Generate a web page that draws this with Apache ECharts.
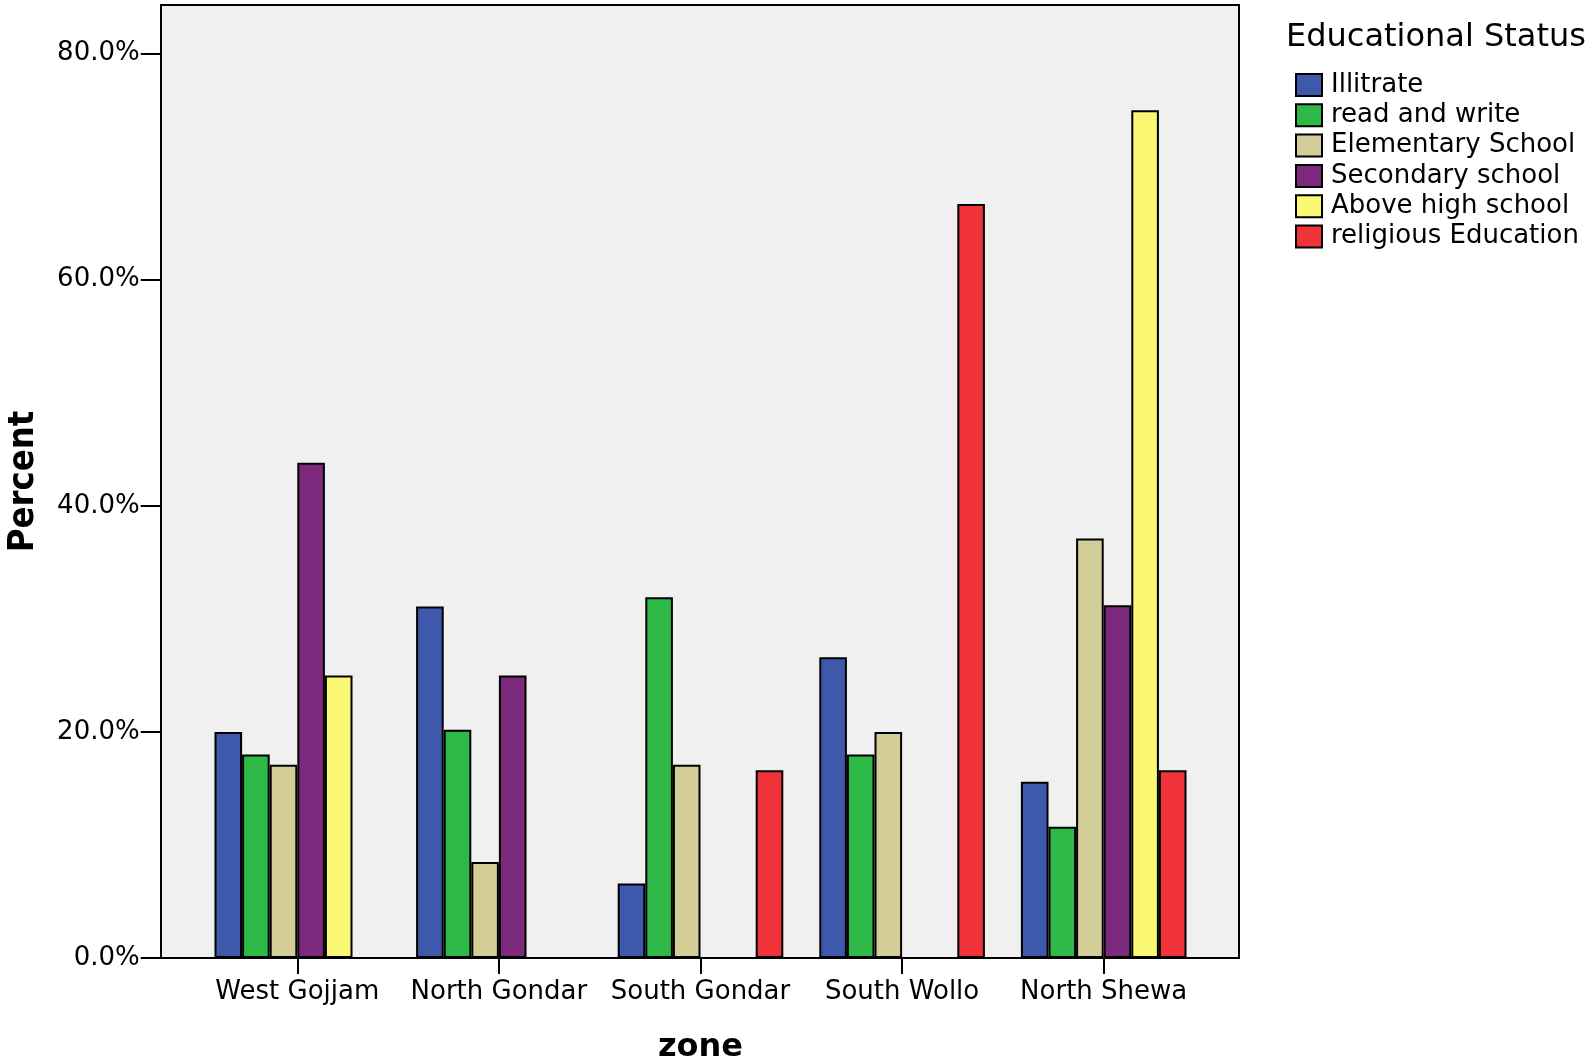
<!DOCTYPE html>
<html>
<head>
<meta charset="utf-8">
<script src="https://cdn.jsdelivr.net/npm/echarts@6/dist/echarts.min.js"></script>
<style>
  html, body { margin: 0; padding: 0; background: #fff; }
  #chart { width: 1595px; height: 1061px; }
</style>
</head>
<body>
<div id="chart"></div>
<script>
// zones on the x axis
const zones = ['West Gojjam', 'North Gondar', 'South Gondar', 'South Wollo', 'North Shewa']

// percent per educational status
const illitrate   = [20.0, 31.1, 6.6, 26.6, 15.6]
const readWrite   = [18.0, 20.2, 31.9, 18.0, 11.6]
const elementary  = [17.1, 8.5, 17.1, 20.0, 37.1]
const secondary   = [43.8, 25.0, 0, 0, 31.2]
const aboveHigh   = [25.0, 0, 0, 0, 75.0]
const religious   = [0, 0, 16.6, 66.7, 16.6]

const yTicks = [0, 20, 40, 60, 80]

const statusNames = ['Illitrate', 'read and write', 'Elementary School', 'Secondary school', 'Above high school', 'religious Education']
const statusData = [illitrate, readWrite, elementary, secondary, aboveHigh, religious]
const statusColors = ['#3E58AC', '#2EB848', '#D3CE97', '#7C287D', '#FBF873', '#EF3338']

const font = 'DejaVu Sans'

let myChart = echarts.init(document.getElementById('chart'))

let series = statusNames.map(function (name, i) {
  return {
    name: name,
    type: 'bar',
    data: statusData[i],
    barWidth: 27.6,
    barGap: '0%',
    itemStyle: {
      color: statusColors[i],
      borderColor: '#000',
      borderWidth: 2
    },
    z: 3
  }
})

let option = {
  animation: false,
  backgroundColor: '#fff',
  title: {
    text: 'Educational Status',
    left: 1286,
    top: 22,
    padding: 0,
    textStyle: { fontFamily: font, fontSize: 32, fontWeight: 'normal', color: '#000' }
  },
  legend: {
    orient: 'vertical',
    left: 1290,
    top: 67,
    itemWidth: 26,
    itemHeight: 22,
    itemGap: 4.3,
    icon: 'rect',
    textStyle: { fontFamily: font, fontSize: 26, color: '#000', padding: [0, 0, 0, 4] },
    data: statusNames
  },
  graphic: [{
    type: 'rect',
    z: -1,
    shape: { x: 161, y: 5, width: 1078, height: 953 },
    style: { fill: '#F0F0F0', stroke: '#000', lineWidth: 2 }
  }],
  grid: {
    left: 196.5,
    right: 390.5,
    top: 5,
    bottom: 103,
    outerBoundsMode: 'none',
    containLabel: false
  },
  xAxis: {
    type: 'category',
    data: zones,
    name: 'zone',
    nameLocation: 'middle',
    nameGap: 74,
    nameTextStyle: { fontFamily: font, fontSize: 32, fontWeight: 'bold', color: '#000' },
    axisLine: { show: false },
    axisTick: { show: true, alignWithLabel: true, interval: 0, length: 16, lineStyle: { color: '#000', width: 2 } },
    axisLabel: { fontFamily: font, fontSize: 26, color: '#000', margin: 21, interval: 0 },
    splitLine: { show: false }
  },
  yAxis: {
    type: 'value',
    min: 0,
    max: 84.3,
    interval: 20,
    offset: 35.8,
    name: 'Percent',
    nameLocation: 'middle',
    nameGap: 119,
    nameTextStyle: { fontFamily: "'Liberation Sans Narrow', 'DejaVu Sans Condensed', sans-serif", fontSize: 36, fontWeight: 'bold', color: '#000' },
    axisLine: { show: false },
    axisTick: { show: true, length: 20, customValues: yTicks, lineStyle: { color: '#000', width: 2 } },
    axisLabel: {
      fontFamily: font, fontSize: 26, color: '#000', margin: 21,
      customValues: yTicks,
      formatter: function (v) { return v.toFixed(1) + '%' }
    },
    splitLine: { show: false }
  },
  series: series
}

myChart.setOption(option)
</script>
</body>
</html>
